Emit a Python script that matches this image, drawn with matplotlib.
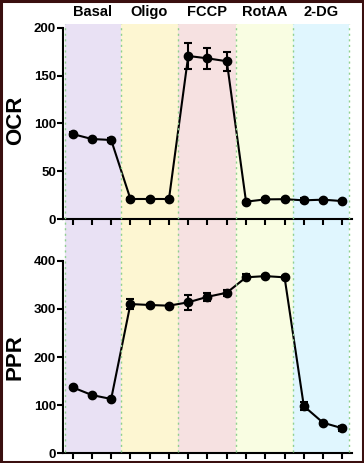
import matplotlib
matplotlib.use("Agg")
import matplotlib.pyplot as plt
import matplotlib.transforms as mtransforms
from matplotlib.patches import Rectangle
import numpy as np

plt.rcParams['font.family'] = ['Liberation Sans', 'DejaVu Sans']
plt.rcParams['font.weight'] = 'bold'

phases = ["Basal", "Oligo", "FCCP", "RotAA", "2-DG"]
phase_colors = ["#e9e1f4", "#fdf6d2", "#f6e1e1", "#f9fde2", "#e0f6fe"]
timepoints = list(range(1, 16))

ocr = [89, 83.8, 82.8, 21.2, 21.2, 21.2, 170.5, 168, 165, 18.4, 20.8, 21, 19.8, 20.5, 19]
ocr_err = [2, 1, 2, 1, 1, 1, 14, 11, 10, 1, 1, 1, 2, 1, 1]
ppr = [137, 121, 112.8, 310, 308, 306.6, 313.6, 325, 333.5, 365.5, 368, 365.5, 98, 63.5, 52]
ppr_err = [2, 2, 2, 10, 2, 2, 16, 8, 6, 6, 2, 2, 8, 2, 5]

W, H = 364, 463
fig = plt.figure(figsize=(W / 100, H / 100), dpi=100)
fig.patch.set_facecolor("white")

ax1 = fig.add_axes([63 / W, 1 - 219.3 / H, 289 / W, (219.3 - 27.7) / H])
ax2 = fig.add_axes([63 / W, 1 - 453.3 / H, 289 / W, (453.3 - 260.7) / H])

edges = [0.6, 3.5, 6.45, 9.5, 12.45, 15.35]
trans = mtransforms.blended_transform_factory(ax1.transData, fig.transFigure)
ytop = 1 - 24 / H
ybot = 1 - 452 / H
for i, (name, col) in enumerate(zip(phases, phase_colors)):
    r = Rectangle((edges[i], ybot), edges[i + 1] - edges[i], ytop - ybot,
                  transform=trans, facecolor=col, edgecolor="none", zorder=0)
    fig.add_artist(r)
    fig.text((edges[i] + edges[i + 1]) / 2, 1 - 12 / H, name, transform=trans,
             ha="center", va="center", fontsize=10.5, fontweight="bold")
for e in edges:
    fig.add_artist(plt.Line2D([e, e], [ybot, ytop], transform=trans,
                              color="#8fd08f", lw=1.0, ls=(0, (1.5, 2.5)), zorder=1))

for ax, y, err, ylim, yt, lab in [(ax1, ocr, ocr_err, 200, [0, 50, 100, 150, 200], "OCR"),
                                  (ax2, ppr, ppr_err, 400, [0, 100, 200, 300, 400], "PPR")]:
    ax.set_facecolor("none")
    ax.errorbar(timepoints, y, yerr=err, color="black", lw=1.5, marker="o",
                markersize=6, capsize=3, capthick=1.5, elinewidth=1.5, zorder=5,
                clip_on=False)
    ax.set_xlim(0.5, 15.5)
    ax.set_ylim(0, ylim)
    ax.set_yticks(yt)
    ax.set_xticks(timepoints)
    ax.set_xticklabels([])
    for s in ["top", "right"]:
        ax.spines[s].set_visible(False)
    for s in ["left", "bottom"]:
        ax.spines[s].set_linewidth(1.5)
    ax.tick_params(axis="both", width=1.5, length=4, direction="out", pad=1)
    for t in ax.get_yticklabels():
        t.set_fontsize(9.5)
        t.set_fontweight("bold")

fig.text(15.5 / W, 1 - 120.5 / H, "OCR", rotation=90, ha="center", va="center",
         fontsize=16, fontweight="bold")
fig.text(15.5 / W, 1 - 357 / H, "PPR", rotation=90, ha="center", va="center",
         fontsize=16, fontweight="bold")

fig.add_artist(Rectangle((0.003, 0.003), 0.994, 0.994, transform=fig.transFigure,
                         facecolor="none", edgecolor="#3a0f0f", lw=2.2, zorder=10))

fig.savefig("out.png", dpi=100)
